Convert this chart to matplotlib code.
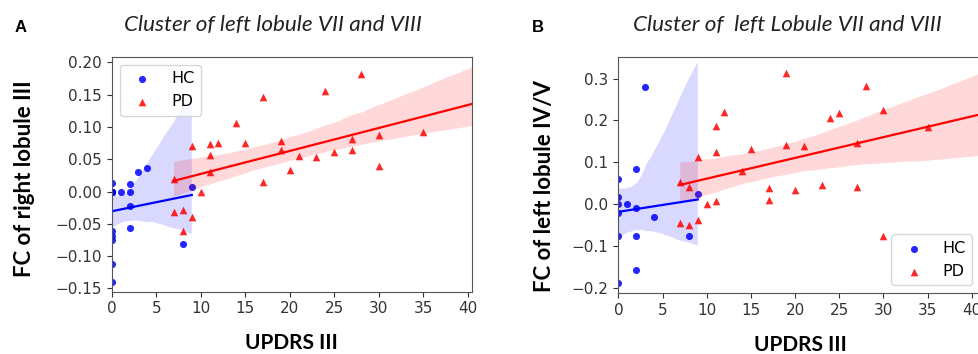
import numpy as np
import matplotlib
matplotlib.use('agg')
import matplotlib.pyplot as plt
import seaborn as sns

# panel A: FC of right lobule III vs UPDRS III
# (several HC subjects overlap at 0, 0 and are hidden behind one marker)
hc_a_x = [0, 0, 0, 0, 0, 0, 0, 0, 0, 0, 0, 1, 2, 2, 2, 2, 3, 4, 8, 9]
hc_a_y = [0.013, 0.0, 0.0, 0.0, 0.0, 0.0, -0.061, -0.068, -0.075, -0.112,
          -0.14, 0.0, 0.012, 0.0, -0.022, -0.057, 0.030, 0.037, -0.081,
          0.007]
pd_a_x = [7, 7, 8, 8, 9, 9, 10, 11, 11, 11, 12, 14, 15, 17, 17, 19, 19,
          20, 21, 23, 24, 25, 27, 27, 28, 30, 30, 35, 41]
pd_a_y = [0.019, -0.032, -0.029, -0.061, 0.070, -0.039, -0.001, 0.073,
          0.057, 0.030, 0.075, 0.107, 0.075, 0.147, 0.015, 0.079, 0.065,
          0.033, 0.055, 0.053, 0.156, 0.061, 0.082, 0.064, 0.182, 0.087,
          0.039, 0.092, 0.111]

# panel B: FC of left lobule IV/V vs UPDRS III
hc_b_x = [0, 0, 0, 0, 0, 0, 1, 2, 2, 2, 2, 3, 4, 8, 9]
hc_b_y = [0.061, 0.018, 0.0, -0.022, -0.077, -0.188, 0.0, 0.085,
          -0.010, -0.077, -0.158, 0.281, -0.030, -0.077, 0.024]
pd_b_x = [7, 7, 8, 8, 9, 9, 10, 11, 11, 11, 12, 14, 15, 17, 17, 19, 19,
          20, 21, 23, 24, 25, 27, 27, 28, 30, 30, 35, 41]
pd_b_y = [0.053, -0.046, 0.041, -0.050, 0.112, -0.037, 0.0, 0.187, 0.125,
          0.007, 0.221, 0.080, 0.132, 0.038, 0.010, 0.314, 0.142, 0.034,
          0.140, 0.045, 0.207, 0.218, 0.145, 0.040, 0.283, 0.225, -0.077,
          0.185, 0.205]

a_yticks = [-0.15, -0.10, -0.05, 0.00, 0.05, 0.10, 0.15, 0.20]
b_yticks = [-0.2, -0.1, 0.0, 0.1, 0.2, 0.3]
xticks = [0, 5, 10, 15, 20, 25, 30, 35, 40]

fig = plt.figure(figsize=(9.79, 3.54), dpi=100)
ax_a = fig.add_axes([0.1141, 0.176, 0.3677, 0.664])
ax_b = fig.add_axes([0.6316, 0.172, 0.3718, 0.666])


def draw_panel(ax, hx, hy, px, py, seed):
    sns.regplot(x=np.array(hx), y=np.array(hy), ax=ax, color='blue',
                marker='o', label='HC', seed=seed, truncate=True,
                scatter_kws={'s': 26, 'alpha': 0.85, 'linewidths': 0},
                line_kws={'lw': 1.6})
    sns.regplot(x=np.array(px), y=np.array(py), ax=ax, color='red',
                marker='^', label='PD', seed=seed + 1, truncate=True,
                scatter_kws={'s': 30, 'alpha': 0.85, 'linewidths': 0},
                line_kws={'lw': 1.6})
    ax.set_xticks(xticks)
    ax.tick_params(labelsize=11, colors='#333333', length=3.5)
    for s in ax.spines.values():
        s.set_color('#555555')
    ax.set_xlabel('UPDRS III', fontsize=15, fontweight='bold',
                  family='Lato', labelpad=12)


draw_panel(ax_a, hc_a_x, hc_a_y, pd_a_x, pd_a_y, 3)
ax_a.set_xlim(0, 40.45)
ax_a.set_ylim(-0.155, 0.209)
ax_a.set_yticks(a_yticks)
ax_a.set_ylabel('FC of right lobule III', fontsize=16, fontweight='bold',
                family='Lato', labelpad=15)
ax_a.yaxis.label.set_y(0.48)
ax_a.legend(loc='upper left', bbox_to_anchor=(0.023, 0.965),
            borderaxespad=0, fontsize=11.5)

draw_panel(ax_b, hc_b_x, hc_b_y, pd_b_x, pd_b_y, 7)
ax_b.set_xlim(0, 41.2)
ax_b.set_ylim(-0.213, 0.351)
ax_b.set_yticks(b_yticks)
ax_b.set_ylabel('FC of left lobule IV/V', fontsize=16, fontweight='bold',
                family='Lato', labelpad=12)
ax_b.yaxis.label.set_y(0.454)
ax_b.legend(loc='lower right', bbox_to_anchor=(0.972, 0.034),
            borderaxespad=0, fontsize=11.5)

fig.text(0.0153, 0.922, 'A', fontsize=12, fontweight='bold',
         family='Liberation Sans', va='center')
fig.text(0.5434, 0.922, 'B', fontsize=12, fontweight='bold',
         family='Liberation Sans', va='center')
fig.text(0.2783, 0.93, 'Cluster of left lobule VII and VIII', fontsize=16.2,
         style='italic', family='Lato', ha='center', va='center',
         color='#222222')
fig.text(0.8044, 0.93, 'Cluster of  left Lobule VII and VIII', fontsize=16.2,
         style='italic', family='Lato', ha='center', va='center',
         color='#222222')

fig.savefig('out.png', dpi=100)
plt.close(fig)
